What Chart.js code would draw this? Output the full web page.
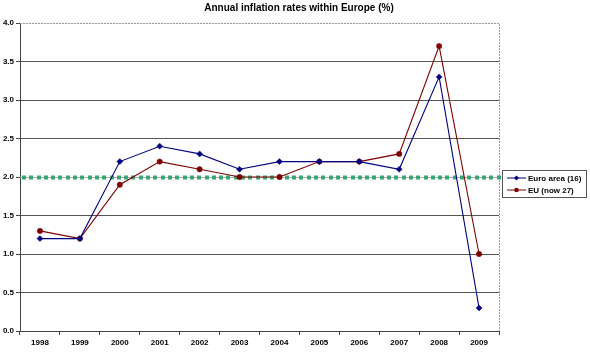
<!DOCTYPE html>
<html>
<head>
<meta charset="utf-8">
<script src="https://cdn.jsdelivr.net/npm/chart.js@4/dist/chart.umd.min.js"></script>
<style>
  body { margin: 0; background: #fff; }
  #wrap { width: 590px; height: 353px; }
</style>
</head>
<body>
<div id="wrap"><canvas id="chart"></canvas></div>
<script>
const years = ['1998','1999','2000','2001','2002','2003','2004','2005','2006','2007','2008','2009'];
const euroArea = [1.2, 1.2, 2.2, 2.4, 2.3, 2.1, 2.2, 2.2, 2.2, 2.1, 3.3, 0.3];
const euNow27 = [1.3, 1.2, 1.9, 2.2, 2.1, 2.0, 2.0, 2.2, 2.2, 2.3, 3.7, 1.0];
const seriesNames = ['Euro area (16)', 'EU (now 27)'];
const targetRate = 2.0;
const chartTitle = 'Annual inflation rates within Europe (%)';

const FONT = 'Arial, "Liberation Sans", sans-serif';

// title, dotted frame, green 2% line and excel style legend
const extras = {
  id: 'extras',
  beforeDatasetsDraw(chart) {
    const {ctx, chartArea: a, scales} = chart;
    ctx.save();
    ctx.strokeStyle = '#999';
    ctx.lineWidth = 1;
    ctx.setLineDash([2, 1]);
    ctx.beginPath();
    ctx.moveTo(a.left, a.top + 0.5);
    ctx.lineTo(a.right + 0.5, a.top + 0.5);
    ctx.lineTo(a.right + 0.5, a.bottom);
    ctx.stroke();
    // target line
    const y = Math.round(scales.y.getPixelForValue(targetRate));
    ctx.setLineDash([]);
    ctx.strokeStyle = '#aaa';
    ctx.beginPath();
    ctx.moveTo(a.left, y + 0.5);
    ctx.lineTo(a.right, y + 0.5);
    ctx.stroke();
    ctx.fillStyle = '#3aa574';
    for (let x = a.left + 2; x < a.right - 1; x += 7.3) {
      ctx.fillRect(Math.round(x), y - 1.5, 4, 4);
    }
    ctx.restore();
  },
  afterDraw(chart) {
    const {ctx} = chart;
    ctx.save();
    ctx.fillStyle = '#000';
    ctx.font = 'bold 10px ' + FONT;
    ctx.textAlign = 'center';
    ctx.textBaseline = 'middle';
    ctx.fillText(chartTitle, 299, 8);

    // legend
    const lx = 502, ly = 170, lw = 84, lh = 27;
    ctx.fillStyle = '#fff';
    ctx.fillRect(lx, ly, lw, lh);
    ctx.strokeStyle = '#555';
    ctx.lineWidth = 1;
    ctx.strokeRect(lx + 0.5, ly + 0.5, lw, lh);
    chart.data.datasets.forEach((ds, i) => {
      const yy = ly + 8 + i * 12;
      ctx.strokeStyle = ds.borderColor;
      ctx.lineWidth = 1;
      ctx.beginPath();
      ctx.moveTo(lx + 5, yy);
      ctx.lineTo(lx + 24, yy);
      ctx.stroke();
      ctx.fillStyle = ds.borderColor;
      ctx.beginPath();
      if (ds.pointStyle === 'rectRot') {
        ctx.moveTo(lx + 14.5, yy - 2.5);
        ctx.lineTo(lx + 17, yy);
        ctx.lineTo(lx + 14.5, yy + 2.5);
        ctx.lineTo(lx + 12, yy);
        ctx.closePath();
      } else {
        ctx.arc(lx + 14.5, yy, 2.3, 0, Math.PI * 2);
      }
      ctx.fill();
      ctx.fillStyle = '#000';
      ctx.font = 'bold 8px ' + FONT;
      ctx.textAlign = 'left';
      ctx.fillText(ds.label, lx + 26, yy + 0.5);
    });
    ctx.restore();
  }
};

new Chart(document.getElementById('chart'), {
  type: 'line',
  data: {
    labels: years,
    datasets: [
      {label: seriesNames[0], data: euroArea, borderColor: '#000080', backgroundColor: '#000080',
       borderWidth: 1.1, pointStyle: 'rectRot', pointRadius: 3, pointBorderWidth: 0.5, tension: 0},
      {label: seriesNames[1], data: euNow27, borderColor: '#800000', backgroundColor: '#800000',
       borderWidth: 1.1, pointStyle: 'circle', pointRadius: 2.7, pointBorderWidth: 0.5, tension: 0}
    ]
  },
  options: {
    responsive: true,
    maintainAspectRatio: false,
    animation: false,
    layout: {padding: {top: 23, right: 91, left: 0, bottom: 0}},
    plugins: {legend: {display: false}, title: {display: false}, tooltip: {enabled: false}},
    scales: {
      x: {
        offset: true,
        grid: {offset: true, drawOnChartArea: false, drawTicks: true, tickLength: 4, color: '#444'},
        border: {color: '#444'},
        ticks: {color: '#000', font: {family: FONT, size: 8, weight: 'bold'}, padding: 3, maxRotation: 0},
        afterFit(scale) { scale.height = 22; }
      },
      y: {
        min: 0, max: 4,
        ticks: {stepSize: 0.5, color: '#000', font: {family: FONT, size: 8, weight: 'bold'}, padding: 2,
                callback: v => v.toFixed(1)},
        grid: {color: ctx => ctx.tick && ctx.tick.value === 4 ? 'rgba(0,0,0,0)' : '#555',
               tickLength: 4, tickColor: '#444'},
        border: {color: '#444'},
        afterFit(scale) { scale.width = 20; }
      }
    }
  },
  plugins: [extras]
});
</script>
</body>
</html>
